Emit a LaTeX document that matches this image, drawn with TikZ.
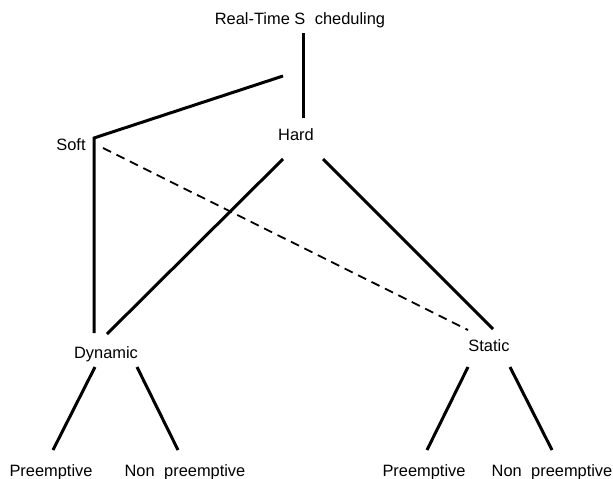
\documentclass[tikz,border=0pt]{standalone}
\usepackage{fontspec}
\setmainfont{Liberation Sans}
\begin{document}
\begin{tikzpicture}[x=1pt,y=-1pt,
  lbl/.style={inner sep=0pt,anchor=base,font=\fontsize{16.4}{19}\selectfont},
  edge/.style={line width=3pt},
  dashedge/.style={line width=1.8pt,dash pattern=on 9pt off 6pt}]
\useasboundingbox (0,0) rectangle (613,479);
\node[lbl] (root) at (300,24) {Real-Time S\hspace{0.3em} cheduling};
\node[lbl] (hard) at (296,140) {Hard};
\node[lbl] (soft) at (71,150) {Soft};
\node[lbl] (dyn) at (106,358) {Dynamic};
\node[lbl] (stat) at (489,351) {Static};
\node[lbl] (p1) at (51,476) {Preemptive};
\node[lbl] (n1) at (185,476) {Non\hspace{0.3em} preemptive};
\node[lbl] (p2) at (424,476) {Preemptive};
\node[lbl] (n2) at (552,476) {Non\hspace{0.3em} preemptive};
% connector end points
\coordinate (rt) at (303,33);
\coordinate (rb) at (303,118);
\coordinate (sa) at (94,138);
\coordinate (sb) at (283,76);
\coordinate (sd) at (94,333);
\coordinate (ds) at (103,148);
\coordinate (de) at (468,330);
\coordinate (hl) at (283,159);
\coordinate (hr) at (323,159);
\coordinate (dl) at (107,334);
\coordinate (sr) at (493,329);
\coordinate (d1) at (95,367);
\coordinate (d1e) at (53,450);
\coordinate (d2) at (137,367);
\coordinate (d2e) at (178,450);
\coordinate (s1) at (468,367);
\coordinate (s1e) at (427,450);
\coordinate (s2) at (510,367);
\coordinate (s2e) at (552,450);
\draw[edge] (rt) -- (rb);
\draw[edge] (sb) -- (sa) -- (sd);
\draw[dashedge] (ds) -- (de);
\draw[edge] (hl) -- (dl);
\draw[edge] (hr) -- (sr);
\draw[edge] (d1) -- (d1e);
\draw[edge] (d2) -- (d2e);
\draw[edge] (s1) -- (s1e);
\draw[edge] (s2) -- (s2e);
\end{tikzpicture}
\end{document}
